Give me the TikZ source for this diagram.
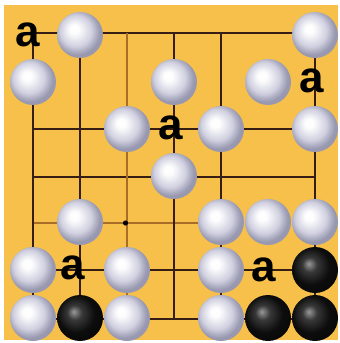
\documentclass[tikz,border=0pt]{standalone}
\usepackage{fontspec}
\setsansfont{Liberation Sans}
\definecolor{board}{RGB}{247,192,74}
\definecolor{gridline}{RGB}{55,30,20}
\definecolor{faintline}{RGB}{168,110,40}
\definecolor{stonemid}{RGB}{208,208,224}
\definecolor{stonerim}{RGB}{152,152,176}
\pgfdeclareradialshading{whiteball}{\pgfpoint{-7bp}{7bp}}{color(0bp)=(white); color(5bp)=(white!95!stonemid); color(17bp)=(stonemid); color(25bp)=(stonerim); color(50bp)=(stonerim)}
\pgfdeclareradialshading{blackball}{\pgfpoint{-7bp}{7bp}}{color(0bp)=(black!40); color(8bp)=(black!78); color(20bp)=(black!95); color(50bp)=(black)}
\tikzset{
  wstone/.style={circle,minimum size=46pt,inner sep=0pt,shading=whiteball},
  bstone/.style={circle,minimum size=46pt,inner sep=0pt,shading=blackball},
  letter/.style={font=\sffamily\bfseries\fontsize{44}{44}\selectfont,inner sep=0pt,xshift=-3pt},
}
\begin{document}
\begin{tikzpicture}[x=1pt,y=-1pt]
\useasboundingbox (0,0) rectangle (340,343);
\fill[board] (4,5) rectangle (338,340);
% lines of the board
\draw[gridline,line width=2.2pt] (33,33) -- (315,33);
\draw[gridline,line width=2.2pt] (33,129) -- (315,129);
\draw[gridline,line width=2.2pt] (33,177) -- (315,177);
\draw[faintline,line width=1.4pt] (33,223) -- (221,223);
\draw[gridline,line width=2.2pt] (33,270) -- (315,270);
\draw[gridline,line width=2.2pt] (33,319) -- (315,319);
\draw[gridline,line width=2.2pt] (33,33) -- (33,319);
\draw[gridline,line width=2.2pt] (80,33) -- (80,319);
\draw[faintline,line width=1.4pt] (127,33) -- (127,319);
\draw[gridline,line width=2pt] (174,33) -- (174,319);
\draw[gridline,line width=2.2pt] (221,33) -- (221,319);
\draw[gridline,line width=2.2pt] (315,33) -- (315,319);
\fill[black] (125.5,223) circle (2.6);
% white stones
\node[wstone] (w21) at (80,35) {};
\node[wstone] (w71) at (315,35) {};
\node[wstone] (w12) at (33,82) {};
\node[wstone] (w42) at (174,82) {};
\node[wstone] (w62) at (268,82) {};
\node[wstone] (w33) at (127,129) {};
\node[wstone] (w53) at (221,129) {};
\node[wstone] (w73) at (315,129) {};
\node[wstone] (w44) at (174,176) {};
\node[wstone] (w25) at (80,222) {};
\node[wstone] (w55) at (221,222) {};
\node[wstone] (w65) at (268,222) {};
\node[wstone] (w75) at (315,222) {};
\node[wstone] (w16) at (33,270) {};
\node[wstone] (w36) at (127,270) {};
\node[wstone] (w56) at (221,270) {};
\node[wstone] (w17) at (33,318) {};
\node[wstone] (w37) at (127,318) {};
\node[wstone] (w57) at (221,318) {};
% black stones
\node[bstone] (b76) at (315,270) {};
\node[bstone] (b27) at (80,318) {};
\node[bstone] (b67) at (268,318) {};
\node[bstone] (b77) at (315,318) {};
% marks
\node[letter] (a11) at (31,35) {a};
\node[letter] (a72) at (315,81) {a};
\node[letter] (a43) at (174,128) {a};
\node[letter] (a26) at (76,268) {a};
\node[letter] (a66) at (267,270) {a};
\end{tikzpicture}
\end{document}
